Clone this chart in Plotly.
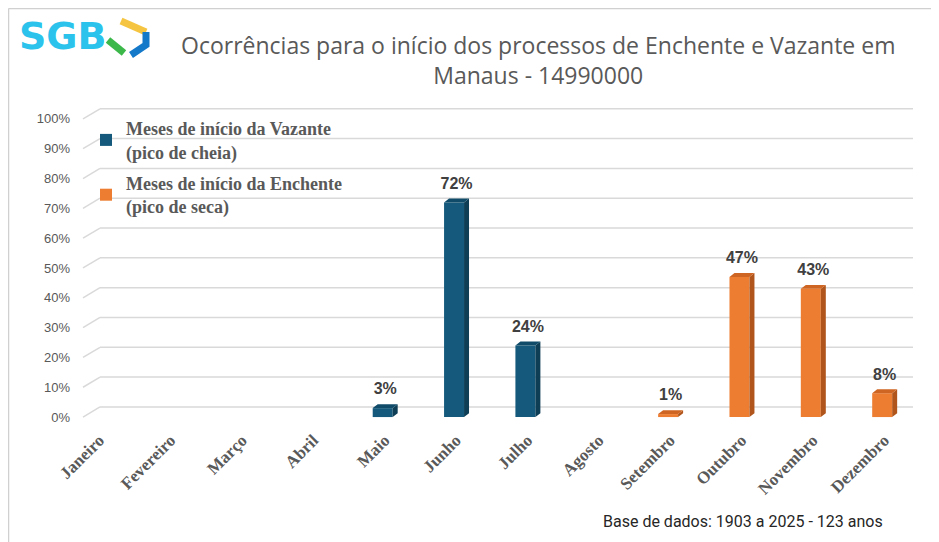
import plotly.graph_objects as go

meses = ["Janeiro", "Fevereiro", "Março", "Abril", "Maio", "Junho", "Julho",
         "Agosto", "Setembro", "Outubro", "Novembro", "Dezembro"]

vazante_meses = ["Maio", "Junho", "Julho"]
vazante_pct = [3, 72, 24]

enchente_meses = ["Setembro", "Outubro", "Novembro", "Dezembro"]
enchente_pct = [1, 47, 43, 8]

y_ticks = list(range(0, 101, 10))
y_labels = [f"{t}%" for t in y_ticks]

OFF = 8                               # page body margin
W, H = 939 - OFF, 542 - OFF
L, R, T, B = 75, 24, 96, 116
BAR_W, DX, DY = 0.28, 0.07, 1.3       # 3d bar depth in axis units
WALL = 3.4                            # back wall offset for gridlines


def px(x):
    # page pixel -> paper x
    return (x - OFF - L) / (W - L - R)


def py(y):
    # page pixel -> paper y
    return (H - B - (y - OFF)) / (H - T - B)


def bar3d(fig, nomes, vals, front, side, top, name):
    xs = [meses.index(m) for m in nomes]
    fig.add_trace(go.Bar(x=xs, y=vals, width=BAR_W, name=name,
                         marker=dict(color=front, line_width=0),
                         legendgroup=name, hoverinfo="skip"))
    sx, sy, tx, ty = [], [], [], []
    for x, v in zip(xs, vals):
        r, l = x + BAR_W / 2, x - BAR_W / 2
        sx += [r, r + DX, r + DX, r, r, None]
        sy += [0, DY, v + DY, v, 0, None]
        tx += [l, l + DX, r + DX, r, l, None]
        ty += [v, v + DY, v + DY, v, v, None]
    fig.add_trace(go.Scatter(x=sx, y=sy, fill="toself", fillcolor=side, mode="none",
                             showlegend=False, hoverinfo="skip"))
    fig.add_trace(go.Scatter(x=tx, y=ty, fill="toself", fillcolor=top, mode="none",
                             showlegend=False, hoverinfo="skip"))
    fig.add_trace(go.Scatter(x=[x + DX / 2 for x in xs], y=[v + 2.5 * DY for v in vals],
                             mode="text", text=[f"{v}%" for v in vals],
                             textposition="top center", showlegend=False,
                             textfont=dict(family="Liberation Sans", size=16,
                                           color="#404040", weight="bold"),
                             cliponaxis=False, hoverinfo="skip"))


fig = go.Figure()
bar3d(fig, vazante_meses, vazante_pct, "#155a7c", "#0d3e56", "#104c69",
      "Meses de início da Vazante<br>(pico de cheia)")
bar3d(fig, enchente_meses, enchente_pct, "#ed7d31", "#b0561c", "#cf6522",
      "Meses de início da Enchente<br>(pico de seca)")

shapes = []
for t in y_ticks:
    shapes.append(dict(type="line", xref="paper", yref="y", x0=0, y0=t,
                       x1=px(100), y1=t + WALL, line=dict(color="#d9d9d9", width=1.5),
                       layer="below"))
    shapes.append(dict(type="line", xref="paper", yref="y", x0=px(100), y0=t + WALL,
                       x1=px(913), y1=t + WALL, line=dict(color="#d9d9d9", width=1.5),
                       layer="below"))

# outer frame (top and left edges)
shapes.append(dict(type="line", xref="paper", yref="paper", x0=px(8.5), y0=py(8.5),
                   x1=px(939), y1=py(8.5), line=dict(color="#d0d0d0", width=1.5)))
shapes.append(dict(type="line", xref="paper", yref="paper", x0=px(8.5), y0=py(8.5),
                   x1=px(8.5), y1=py(542), line=dict(color="#d0d0d0", width=1.5)))

# logo mark
shapes.append(dict(type="line", xref="paper", yref="paper", x0=px(121), y0=py(21),
                   x1=px(146), y1=py(32), line=dict(color="#f5c542", width=7)))
shapes.append(dict(type="path", xref="paper", yref="paper",
                   path=f"M {px(146)} {py(32)} L {px(146)} {py(45)} L {px(131)} {py(55)}",
                   line=dict(color="#1479c9", width=7)))
shapes.append(dict(type="line", xref="paper", yref="paper", x0=px(108), y0=py(40),
                   x1=px(124), y1=py(53), line=dict(color="#3cb84a", width=7)))

annotations = [
    dict(text="SGB", xref="paper", yref="paper", x=px(63), y=py(36),
         xanchor="center", yanchor="middle", showarrow=False,
         font=dict(family="DejaVu Sans", size=38, color="#2bc3ec", weight="bold")),
    dict(text="Ocorrências para o início dos processos de Enchente e Vazante em<br>"
              "Manaus - 14990000",
         xref="paper", yref="paper", x=px(538), y=py(60), xanchor="center",
         yanchor="middle", showarrow=False,
         font=dict(family="Open Sans", size=23, color="#595959")),
    dict(text="Base de dados: 1903 a 2025 - 123 anos", xref="paper", yref="paper",
         x=px(885), y=py(521), xanchor="right", yanchor="middle", showarrow=False,
         font=dict(family="Roboto", size=16, color="#262626")),
]

fig.update_layout(
    width=W, height=H,
    margin=dict(l=L, r=R, t=T, b=B),
    paper_bgcolor="white", plot_bgcolor="white",
    barmode="overlay",
    shapes=shapes, annotations=annotations,
    legend=dict(x=px(86), y=py(110), xanchor="left", yanchor="top",
                bgcolor="rgba(0,0,0,0)", tracegroupgap=5,
                font=dict(family="Liberation Serif", size=18, color="#595959",
                          weight="bold")),
    xaxis=dict(range=[-0.2, 11.46], tickvals=list(range(12)), ticktext=meses,
               tickangle=-45, ticklabelshift=2, showgrid=False, zeroline=False,
               showline=False, ticks="",
               tickfont=dict(family="Liberation Serif", size=17, color="#595959",
                             weight="bold")),
    yaxis=dict(range=[-3, 105], tickvals=y_ticks, ticktext=y_labels,
               ticklabelstandoff=12, showgrid=False, zeroline=False,
               showline=False, ticks="",
               tickfont=dict(family="Liberation Sans", size=13, color="#595959")),
)

fig.write_html("out.html")
